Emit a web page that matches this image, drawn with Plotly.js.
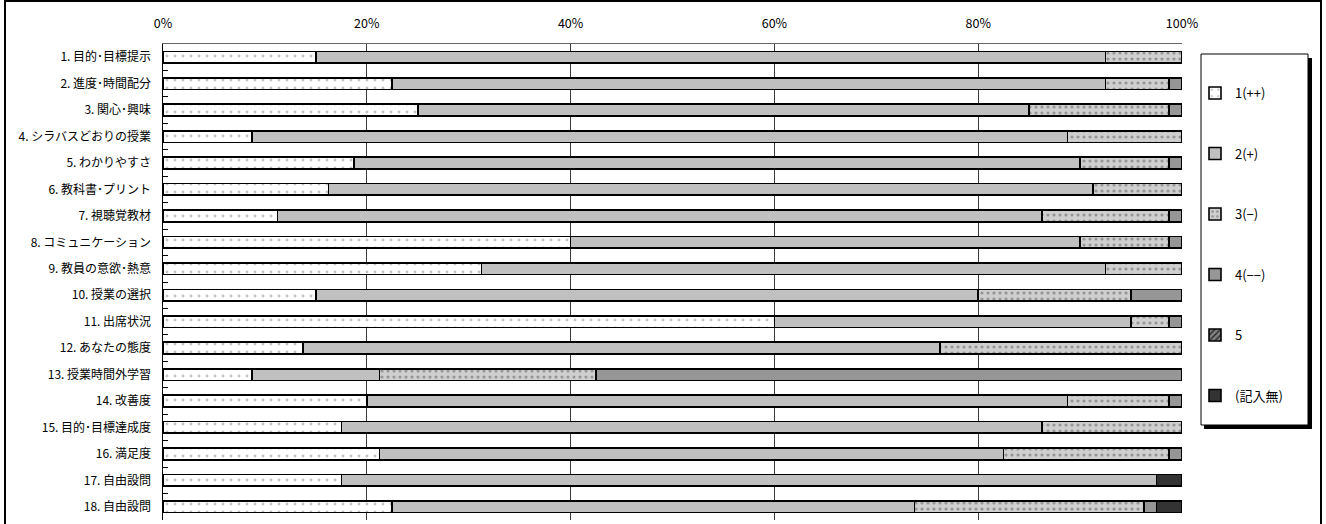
<!DOCTYPE html>
<html>
<head>
<meta charset="utf-8">
<script src="https://cdn.plot.ly/plotly-3.0.1.min.js"></script>
<style>
html,body{margin:0;padding:0;background:#fff;}
#wrap{position:relative;width:1326px;height:524px;overflow:hidden;}
#chart{width:1326px;height:524px;}
#frame{position:absolute;left:4px;top:0px;width:1314px;height:540px;border:2px solid #000;pointer-events:none;}
</style>
</head>
<body>
<div id="wrap"><div id="chart"></div><div id="frame"></div></div>
<script>
const categories = [
  "1. 目的･目標提示", "2. 進度･時間配分", "3. 関心･興味", "4. シラバスどおりの授業",
  "5. わかりやすさ", "6. 教科書･プリント", "7. 視聴覚教材", "8. コミュニケーション",
  "9. 教員の意欲･熱意", "10. 授業の選択", "11. 出席状況", "12. あなたの態度",
  "13. 授業時間外学習", "14. 改善度", "15. 目的･目標達成度", "16. 満足度",
  "17. 自由設問", "18. 自由設問"
];
const seriesNames = ["1(++)", "2(+)", "3(−)", "4(−−)", "5", "(記入無)"];
// response counts per category (80 respondents)
const s1 = [12, 18, 20, 7, 15, 13, 9, 32, 25, 12, 48, 11, 7, 16, 14, 17, 14, 18];
const s2 = [62, 56, 48, 64, 57, 60, 60, 40, 49, 52, 28, 50, 10, 55, 55, 49, 64, 41];
const s3 = [6, 5, 11, 9, 7, 7, 10, 7, 6, 12, 3, 19, 17, 8, 11, 13, 0, 18];
const s4 = [0, 1, 1, 0, 1, 0, 1, 1, 0, 4, 1, 0, 46, 1, 0, 1, 0, 1];
const s5 = [0, 0, 0, 0, 0, 0, 0, 0, 0, 0, 0, 0, 0, 0, 0, 0, 0, 0];
const s6 = [0, 0, 0, 0, 0, 0, 0, 0, 0, 0, 0, 0, 0, 0, 0, 0, 2, 2];
const xTickVals = [0, 20, 40, 60, 80, 100];
const xTickText = ["0%", "20%", "40%", "60%", "80%", "100%"];

const values = [s1, s2, s3, s4, s5, s6];
const markers = [
  {color: "#ffffff", pattern: {shape: ".", fgcolor: "#c4c4c4", bgcolor: "#ffffff", size: 8, solidity: 0.1}},
  {color: "#c0c0c0"},
  {color: "#cfcfcf", pattern: {shape: ".", fgcolor: "#959595", bgcolor: "#cfcfcf", size: 6, solidity: 0.22}},
  {color: "#969696"},
  {color: "#6e6e6e", pattern: {shape: "/", fgcolor: "#2a2a2a", bgcolor: "#808080", size: 5, solidity: 0.35}},
  {color: "#333333"}
];

const traces = values.map((v, i) => {
  const m = Object.assign({}, markers[i], {line: {color: "#000", width: 1.6}});
  return {
    type: "bar", orientation: "h", name: seriesNames[i], legendgroup: "g" + i,
    y: categories, x: v, marker: m, hoverinfo: "name+x"
  };
});

const L = 163, R = 1182, T = 44, B = 520;
const px = X => (X - L) / (R - L);
const py = Y => (B - Y) / (B - T);

const layout = {
  width: 1326, height: 524,
  margin: {l: L, r: 1326 - R, t: T, b: 524 - B, pad: 0},
  paper_bgcolor: "#fff", plot_bgcolor: "#fff",
  barmode: "stack", barnorm: "percent", bargap: 0.56,
  font: {family: "'Noto Sans CJK JP', 'Noto Sans', sans-serif", size: 12, color: "#000"},
  xaxis: {
    side: "top", range: [0, 100], tickvals: xTickVals, ticktext: xTickText,
    showgrid: true, gridcolor: "#3a3a3a", gridwidth: 1,
    showline: true, linecolor: "#666", linewidth: 1, mirror: false,
    ticks: "", zeroline: false, ticklabelstandoff: 10,
    tickfont: {size: 12.5, family: "'Noto Sans CJK JP', sans-serif"}, fixedrange: true
  },
  yaxis: {
    type: "category", autorange: "reversed",
    showline: true, linecolor: "#000", linewidth: 1.5,
    ticks: "inside", ticklen: 5, tickcolor: "#000", tickwidth: 1, tickson: "boundaries",
    showgrid: false, ticklabelstandoff: 8,
    tickfont: {size: 12, family: "'Noto Sans CJK JP', sans-serif"}, fixedrange: true
  },
  showlegend: true,
  legend: {
    x: px(1195), xanchor: "left", y: py(78), yanchor: "top",
    bgcolor: "rgba(0,0,0,0)", borderwidth: 0,
    traceorder: "grouped", tracegroupgap: 40.6,
    font: {size: 13, family: "'Noto Sans CJK JP', sans-serif"}, itemwidth: 30
  },
  shapes: [
    {type: "rect", xref: "paper", yref: "paper", x0: px(1204), x1: px(1312), y0: py(429), y1: py(58),
     fillcolor: "#000", line: {width: 0}, layer: "above"},
    {type: "rect", xref: "paper", yref: "paper", x0: px(1201), x1: px(1308), y0: py(425), y1: py(54),
     fillcolor: "#fff", line: {color: "#000", width: 1}, layer: "above"}
  ]
};

Plotly.newPlot("chart", traces, layout, {displayModeBar: false, staticPlot: true});
</script>
</body>
</html>
